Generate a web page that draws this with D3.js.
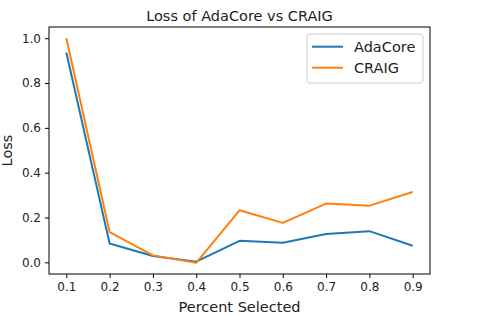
<!DOCTYPE html>
<html>
<head>
<meta charset="utf-8">
<script src="https://cdnjs.cloudflare.com/ajax/libs/d3/7.8.5/d3.min.js"></script>
<style>
  body { margin: 0; background: #fff; }
  svg text { font-family: "DejaVu Sans", sans-serif; fill: #222; }
  .axis path, .axis line { stroke: #000; stroke-width: 1; }
  .axis text { font-size: 12px; }
</style>
</head>
<body>
<div id="chart"></div>
<script>
// data
const percents = [0.1, 0.2, 0.3, 0.4, 0.5, 0.6, 0.7, 0.8, 0.9];
const adaCore = [0.936, 0.084, 0.028, 0.003, 0.096, 0.087, 0.126, 0.139, 0.074];
const craig   = [1.0, 0.135, 0.031, -0.002, 0.232, 0.176, 0.262, 0.253, 0.314];
const yTicks = [0.0, 0.2, 0.4, 0.6, 0.8, 1.0];

const seriesNames = ["AdaCore", "CRAIG"];
const seriesColors = ["#1f77b4", "#ff7f0e"];

const W = 479, H = 315;
const margin = {top: 27, right: 49, bottom: 41, left: 49};
const width = W - margin.left - margin.right;
const height = H - margin.top - margin.bottom;

const svg = d3.select("#chart").append("svg")
    .attr("width", W)
    .attr("height", H);

const g = svg.append("g")
    .attr("transform", "translate(" + margin.left + "," + margin.top + ")");

// matplotlib style 5% margins
function padded(ext) {
    let pad = (ext[1] - ext[0]) * 0.05;
    return [ext[0] - pad, ext[1] + pad];
}

const x = d3.scaleLinear()
    .domain(padded(d3.extent(percents)))
    .range([0, width]);

const y = d3.scaleLinear()
    .domain(padded(d3.extent(adaCore.concat(craig))))
    .range([height, 0]);

const xAxis = d3.axisBottom(x)
    .tickValues(percents)
    .tickFormat(d3.format(".1f"))
    .tickSize(4)
    .tickPadding(4);

const yAxis = d3.axisLeft(y)
    .tickValues(yTicks)
    .tickFormat(d3.format(".1f"))
    .tickSize(4)
    .tickPadding(4);

g.append("g")
    .attr("class", "x-axis axis")
    .attr("transform", "translate(0," + height + ")")
    .call(xAxis)
    .call(a => a.select(".domain").remove());

g.append("g")
    .attr("class", "y-axis axis")
    .call(yAxis)
    .call(a => a.select(".domain").remove());

// lines
const line = d3.line()
    .x((d, i) => x(percents[i]))
    .y(d => y(d));

[adaCore, craig].forEach((vals, i) => {
    g.append("path")
        .datum(vals)
        .attr("fill", "none")
        .attr("stroke", seriesColors[i])
        .attr("stroke-width", 2)
        .attr("stroke-linejoin", "round")
        .attr("d", line);
});

// frame
g.append("rect")
    .attr("width", width)
    .attr("height", height)
    .attr("fill", "none")
    .attr("stroke", "#000")
    .attr("stroke-width", 1);

// title
svg.append("text")
    .attr("x", margin.left + width / 2)
    .attr("y", 20.5)
    .attr("text-anchor", "middle")
    .style("font-size", "14.5px")
    .text("Loss of AdaCore vs CRAIG");

// axis labels
svg.append("text")
    .attr("x", margin.left + width / 2)
    .attr("y", 312)
    .attr("text-anchor", "middle")
    .style("font-size", "14.5px")
    .text("Percent Selected");

svg.append("text")
    .attr("transform", "translate(12," + (margin.top + height / 2) + ") rotate(-90)")
    .attr("text-anchor", "middle")
    .style("font-size", "14.5px")
    .text("Loss");

// legend
const legend = svg.append("g")
    .attr("transform", "translate(307,34)");

legend.append("rect")
    .attr("width", 116)
    .attr("height", 49)
    .attr("rx", 3)
    .attr("fill", "#fff")
    .attr("fill-opacity", 0.8)
    .attr("stroke", "#ccc");

seriesNames.forEach((name, i) => {
    let ly = 12.7 + i * 21;
    legend.append("line")
        .attr("x1", 5).attr("x2", 36)
        .attr("y1", ly).attr("y2", ly)
        .attr("stroke", seriesColors[i])
        .attr("stroke-width", 2);
    legend.append("text")
        .attr("x", 47)
        .attr("y", ly + 5)
        .style("font-size", "14.5px")
        .text(name);
});
</script>
</body>
</html>
